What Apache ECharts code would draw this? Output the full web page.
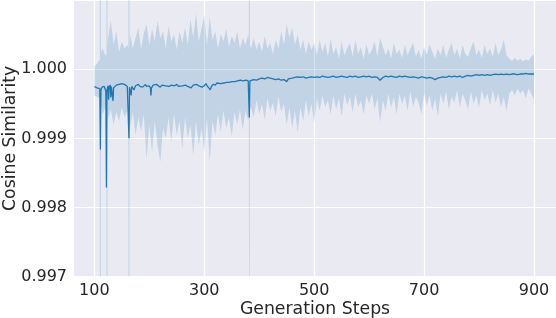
<!DOCTYPE html>
<html><head><meta charset="utf-8">
<script src="https://cdn.jsdelivr.net/npm/echarts@6/dist/echarts.min.js"></script>
<style>html,body{margin:0;padding:0;background:#fff}#c{width:556px;height:318px}</style>
</head><body><div id="c"></div>
<script>
// Mean cosine similarity per generation step
const lineSteps = [100,103,105,108,110,111,112,114,116,118,120,121,122,123,125,126,127,129,130,131,133,134,135,138,140,143,145,148,150,153,155,158,160,162,163,164,166,167,168,170,172,175,178,180,183,185,188,190,193,195,198,200,202,203,204,207,210,213,216,220,223,226,230,233,236,240,243,246,250,253,256,260,263,266,270,273,276,280,283,286,290,293,296,300,303,306,309,311,313,316,320,323,326,330,333,336,340,343,346,350,353,356,360,363,366,370,373,376,380,381,382,383,385,390,395,400,405,410,415,420,425,430,435,440,445,450,453,456,460,465,470,475,480,485,490,495,500,505,510,515,520,525,530,535,540,545,550,555,560,565,570,575,580,585,590,595,600,605,610,615,620,625,630,635,640,645,650,655,660,665,670,675,680,685,690,695,700,705,710,715,720,722,725,730,735,740,745,750,755,760,765,770,775,780,785,790,795,800,805,810,815,820,825,830,835,840,845,850,855,860,865,870,875,880,885,890,895,900];
const lineValues = [0.99975,0.99976,0.99973,0.99974,0.99972,0.99884,0.99970,0.99974,0.99972,0.99975,0.99973,0.99968,0.99829,0.99970,0.99976,0.99956,0.99974,0.99977,0.99959,0.99975,0.99976,0.99954,0.99973,0.99975,0.99977,0.99975,0.99978,0.99976,0.99979,0.99977,0.99978,0.99976,0.99975,0.99976,0.99900,0.99974,0.99976,0.99962,0.99975,0.99973,0.99970,0.99976,0.99974,0.99978,0.99975,0.99977,0.99974,0.99976,0.99978,0.99975,0.99977,0.99976,0.99973,0.99962,0.99973,0.99977,0.99975,0.99978,0.99976,0.99974,0.99977,0.99979,0.99976,0.99978,0.99975,0.99977,0.99979,0.99976,0.99978,0.99975,0.99977,0.99976,0.99974,0.99977,0.99975,0.99976,0.99973,0.99977,0.99975,0.99978,0.99976,0.99977,0.99974,0.99976,0.99979,0.99975,0.99973,0.99970,0.99975,0.99978,0.99977,0.99980,0.99978,0.99979,0.99977,0.99980,0.99981,0.99983,0.99981,0.99982,0.99984,0.99982,0.99983,0.99981,0.99984,0.99983,0.99982,0.99984,0.99983,0.99982,0.99930,0.99983,0.99984,0.99985,0.99984,0.99986,0.99987,0.99986,0.99988,0.99987,0.99986,0.99985,0.99986,0.99984,0.99985,0.99982,0.99986,0.99988,0.99987,0.99988,0.99989,0.99988,0.99989,0.99987,0.99988,0.99989,0.99988,0.99989,0.99988,0.99990,0.99989,0.99988,0.99989,0.99990,0.99988,0.99989,0.99990,0.99989,0.99988,0.99990,0.99989,0.99990,0.99988,0.99989,0.99990,0.99989,0.99990,0.99988,0.99989,0.99988,0.99984,0.99988,0.99990,0.99989,0.99990,0.99989,0.99988,0.99990,0.99989,0.99990,0.99989,0.99988,0.99989,0.99988,0.99987,0.99989,0.99988,0.99987,0.99988,0.99987,0.99985,0.99984,0.99987,0.99988,0.99989,0.99988,0.99990,0.99989,0.99990,0.99989,0.99990,0.99988,0.99990,0.99991,0.99990,0.99991,0.99992,0.99991,0.99992,0.99991,0.99992,0.99991,0.99992,0.99993,0.99992,0.99993,0.99992,0.99993,0.99992,0.99993,0.99993,0.99992,0.99993,0.99993,0.99994,0.99993,0.99993,0.99993];

// Confidence band per generation step
const bandSteps = [100,105,110,111,112,115,120,122,123,124,125,130,135,140,145,150,155,160,162,163,164,165,170,175,180,185,190,195,200,205,210,215,220,225,230,235,240,245,250,255,260,265,270,275,280,285,290,295,300,305,310,315,320,325,330,335,340,345,350,355,360,365,370,375,380,381,382,383,385,390,395,400,405,410,415,420,425,430,435,440,445,450,455,460,465,470,475,480,485,490,495,500,505,510,515,520,525,530,535,540,545,550,555,560,565,570,575,580,585,590,595,600,605,610,615,620,625,630,635,640,645,650,655,660,665,670,675,680,685,690,695,700,705,710,715,720,725,730,735,740,745,750,755,760,765,770,775,780,785,790,795,800,805,810,815,820,825,830,835,840,845,850,855,860,865,870,875,880,885,890,895,900];
const bandUpper = [1.00004,1.00008,1.00014,1.02000,1.00025,1.00030,1.00020,1.00020,1.02000,1.00030,1.00045,1.00070,1.00035,1.00055,1.00025,1.00040,1.00030,1.00035,1.00030,1.02000,1.00035,1.00050,1.00030,1.00045,1.00060,1.00030,1.00052,1.00065,1.00035,1.00058,1.00040,1.00070,1.00045,1.00055,1.00030,1.00062,1.00040,1.00050,1.00028,1.00055,1.00038,1.00060,1.00035,1.00072,1.00045,1.00080,1.00040,1.00058,1.00078,1.00035,1.00075,1.00042,1.00055,1.00030,1.00050,1.00040,1.00058,1.00032,1.00048,1.00038,1.00055,1.00030,1.00045,1.00035,1.00050,1.00040,1.00600,1.00035,1.00030,1.00045,1.00028,1.00040,1.00025,1.00048,1.00030,1.00038,1.00022,1.00042,1.00030,1.00055,1.00035,1.00065,1.00045,1.00060,1.00035,1.00050,1.00028,1.00042,1.00022,1.00040,1.00028,1.00038,1.00020,1.00042,1.00025,1.00038,1.00018,1.00044,1.00022,1.00032,1.00015,1.00040,1.00020,1.00030,1.00038,1.00018,1.00042,1.00022,1.00032,1.00015,1.00036,1.00020,1.00028,1.00040,1.00018,1.00045,1.00032,1.00020,1.00030,1.00015,1.00038,1.00022,1.00028,1.00016,1.00035,1.00020,1.00030,1.00038,1.00018,1.00028,1.00015,1.00032,1.00020,1.00036,1.00025,1.00015,1.00030,1.00020,1.00035,1.00016,1.00028,1.00038,1.00020,1.00030,1.00015,1.00035,1.00022,1.00018,1.00030,1.00040,1.00020,1.00028,1.00016,1.00035,1.00022,1.00030,1.00018,1.00038,1.00020,1.00028,1.00042,1.00020,1.00015,1.00012,1.00016,1.00012,1.00015,1.00011,1.00014,1.00012,1.00018,1.00022];
const bandLower = [0.99962,0.99960,0.99958,0.98000,0.99950,0.99935,0.99945,0.99955,0.98000,0.99960,0.99928,0.99942,0.99920,0.99938,0.99925,0.99945,0.99930,0.99940,0.99958,0.98000,0.99962,0.99915,0.99938,0.99905,0.99930,0.99910,0.99935,0.99870,0.99920,0.99880,0.99925,0.99890,0.99866,0.99915,0.99900,0.99930,0.99895,0.99935,0.99905,0.99925,0.99885,0.99930,0.99900,0.99920,0.99875,0.99925,0.99890,0.99915,0.99880,0.99930,0.99866,0.99925,0.99905,0.99935,0.99910,0.99940,0.99915,0.99930,0.99903,0.99938,0.99920,0.99942,0.99912,0.99940,0.99925,0.99938,0.99400,0.99942,0.99945,0.99930,0.99955,0.99935,0.99950,0.99927,0.99958,0.99940,0.99952,0.99932,0.99960,0.99938,0.99950,0.99920,0.99945,0.99915,0.99940,0.99909,0.99945,0.99925,0.99955,0.99932,0.99950,0.99923,0.99958,0.99940,0.99962,0.99945,0.99955,0.99935,0.99962,0.99942,0.99958,0.99932,0.99965,0.99948,0.99960,0.99938,0.99965,0.99945,0.99955,0.99935,0.99962,0.99950,0.99965,0.99942,0.99958,0.99923,0.99955,0.99940,0.99965,0.99945,0.99960,0.99935,0.99965,0.99950,0.99962,0.99940,0.99968,0.99945,0.99960,0.99952,0.99935,0.99965,0.99948,0.99962,0.99940,0.99958,0.99932,0.99965,0.99950,0.99968,0.99942,0.99960,0.99952,0.99970,0.99945,0.99965,0.99955,0.99942,0.99968,0.99950,0.99962,0.99945,0.99970,0.99955,0.99965,0.99948,0.99970,0.99952,0.99965,0.99945,0.99960,0.99939,0.99965,0.99970,0.99962,0.99972,0.99965,0.99970,0.99958,0.99972,0.99964,0.99956];

const xTickValues = [100, 300, 500, 700, 900];
const xAxisTitle = 'Generation Steps';
const yAxisTitle = 'Cosine Similarity';

const textColor = '#262626';
const fontFamily = 'DejaVu Sans';
const chart = echarts.init(document.getElementById('c'), null, {renderer: 'canvas'});

function renderBand(params, api) {
  if (params.dataIndex !== 0) return null;
  const pts = [];
  for (let i = 0; i < bandSteps.length; i++) pts.push(api.coord([bandSteps[i], bandUpper[i]]));
  for (let i = bandSteps.length - 1; i >= 0; i--) pts.push(api.coord([bandSteps[i], bandLower[i]]));
  const cs = params.coordSys;
  return {
    type: 'polygon',
    shape: {points: pts},
    style: {fill: 'rgba(31,119,180,0.2)', stroke: null},
    clipPath: {type: 'rect', shape: {x: cs.x, y: cs.y, width: cs.width, height: cs.height}}
  };
}

chart.setOption({
  animation: false,
  grid: {left: 74, right: 0, top: 0, bottom: 41.3, show: true, backgroundColor: '#EAEAF2', borderWidth: 0,
    containLabel: false, outerBoundsMode: 'none'},
  xAxis: {
    type: 'value', min: 63, max: 940,
    axisLine: {show: false},
    axisTick: {show: false, customValues: xTickValues},
    axisLabel: {customValues: xTickValues, color: textColor, fontFamily: fontFamily, fontSize: 16, margin: 6},
    splitLine: {show: true, lineStyle: {color: '#ffffff', width: 1.2}},
    name: xAxisTitle, nameLocation: 'middle', nameGap: 24, nameMoveOverlap: false,
    nameTextStyle: {color: textColor, fontFamily: fontFamily, fontSize: 17.3}
  },
  yAxis: {
    type: 'value', min: 0.997, max: 1.001, interval: 0.001,
    axisLine: {show: false},
    axisTick: {show: false},
    axisLabel: {color: textColor, fontFamily: fontFamily, fontSize: 16, margin: 7, showMaxLabel: false,
      formatter: function (v) { return v.toFixed(3); }},
    splitLine: {show: true, lineStyle: {color: '#ffffff', width: 1.2}},
    name: yAxisTitle, nameLocation: 'middle', nameGap: 55, nameMoveOverlap: false,
    nameTextStyle: {color: textColor, fontFamily: fontFamily, fontSize: 17.3}
  },
  series: [
    {
      type: 'custom', renderItem: renderBand, clip: true, silent: true, z: 1,
      data: bandSteps.map(function (s, i) { return [s, bandLower[i], bandUpper[i]]; }),
      encode: {x: 0, y: [1, 2]}
    },
    {
      type: 'line', z: 3, silent: true, showSymbol: false, symbol: 'none',
      data: lineSteps.map(function (s, i) { return [s, lineValues[i]]; }),
      lineStyle: {color: '#1f77b4', width: 1.3},
      itemStyle: {color: '#1f77b4'}
    }
  ]
});
</script>
</body></html>
